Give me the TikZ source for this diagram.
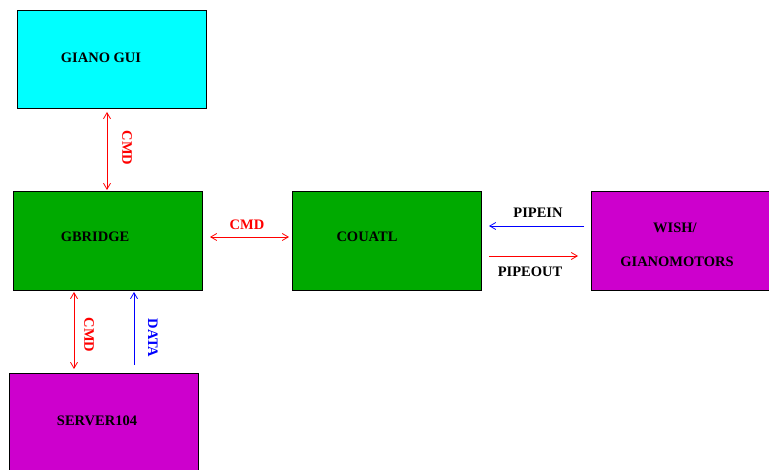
\documentclass[tikz,border=0pt]{standalone}
\usepackage{fontspec}
\setmainfont{Liberation Serif}
\usetikzlibrary{arrows.meta}
\definecolor{guicyan}{RGB}{0,255,255}
\definecolor{procgreen}{RGB}{0,170,0}
\definecolor{procmag}{RGB}{205,0,205}
\begin{document}
\begin{tikzpicture}[x=1pt,y=-1pt,
  blk/.style={draw=black,line width=0.9pt,anchor=north west,inner sep=0pt},
  lbl/.style={font=\fontsize{14.5}{16}\selectfont\bfseries,inner sep=0pt},
  link/.style={line width=0.8pt,arrows={Straight Barb[length=6pt,width=7pt]-Straight Barb[length=6pt,width=7pt]}},
  onelink/.style={line width=0.8pt,-{Straight Barb[length=6pt,width=7pt]}}]
  \useasboundingbox (0,0) rectangle (769,470);
  % boxes
  \draw[blk,fill=guicyan] (17,10) rectangle (206,108);
  \draw[blk,fill=procgreen] (13,191) rectangle (202,290);
  \draw[blk,fill=procgreen] (292,191) rectangle (481,290);
  \draw[blk,fill=procmag] (591,191) rectangle (772,290);
  \draw[blk,fill=procmag] (9,373) rectangle (198,474);
  % box labels
  \node[lbl] (gui) at (101,58) {GIANO GUI};
  \node[lbl] (gbr) at (95,237) {GBRIDGE};
  \node[lbl] (cou) at (367,237) {COUATL};
  \node[lbl] (wish) at (675,228) {WISH/};
  \node[lbl] (gmot) at (677,262) {GIANOMOTORS};
  \node[lbl] (srv) at (97,421) {SERVER104};
  % anchor points for the connectors
  \coordinate (guiB) at (107,112);
  \coordinate (gbrT) at (107,190);
  \coordinate (gbrR) at (210,237);
  \coordinate (couL) at (289,237);
  \coordinate (pinS) at (584,226);
  \coordinate (pinE) at (489,226);
  \coordinate (poutS) at (489,256);
  \coordinate (poutE) at (578,256);
  \coordinate (cmdT) at (74,292);
  \coordinate (cmdB) at (74,369);
  \coordinate (datS) at (134,365);
  \coordinate (datE) at (134,292);
  % connectors
  \draw[link,red] (guiB) -- (gbrT);
  \draw[link,red] (gbrR) -- (couL);
  \draw[onelink,blue] (pinS) -- (pinE);
  \draw[onelink,red] (poutS) -- (poutE);
  \draw[link,red] (cmdT) -- (cmdB);
  \draw[onelink,blue] (datS) -- (datE);
  % connector labels
  \node[lbl,red,rotate=-90] (l1) at (127,148) {CMD};
  \node[lbl,red] (l2) at (247,225) {CMD};
  \node[lbl] (l3) at (538,213) {PIPEIN};
  \node[lbl] (l4) at (530,272) {PIPEOUT};
  \node[lbl,red,rotate=-90] (l5) at (89,335) {CMD};
  \node[lbl,blue,rotate=-90] (l6) at (153,338) {DATA};
\end{tikzpicture}
\end{document}
